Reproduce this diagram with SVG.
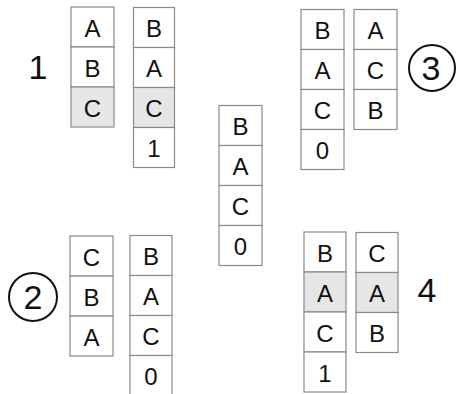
<svg xmlns="http://www.w3.org/2000/svg" width="456" height="394" viewBox="0 0 456 394">
<style>
.c{fill:#fff;stroke:#8a8a8a;stroke-width:1.2}
.g{fill:#e6e6e6;stroke:#8a8a8a;stroke-width:1.2}
.t{font-family:"Liberation Sans",Arial,sans-serif;font-size:24px;fill:#111;text-anchor:middle}
.n{font-family:"Liberation Sans",Arial,sans-serif;font-size:34px;fill:#111;text-anchor:middle}
.m{font-family:"Liberation Sans",Arial,sans-serif;font-size:34px;fill:#111;text-anchor:middle}
.o{fill:none;stroke:#111;stroke-width:2}
</style>
<rect width="456" height="394" fill="#fff"/>
<g id="stack1L">
<rect class="c" x="71" y="7" width="43" height="40"/><text class="t" x="92.5" y="36.5">A</text>
<rect class="c" x="71" y="47" width="43" height="40"/><text class="t" x="92.5" y="76.5">B</text>
<rect class="g" x="71" y="87" width="43" height="40"/><text class="t" x="92.5" y="116.5">C</text>
</g>
<g id="stack1R">
<rect class="c" x="133.5" y="7.5" width="41" height="40"/><text class="t" x="154" y="37">B</text>
<rect class="c" x="133.5" y="47.5" width="41" height="40"/><text class="t" x="154" y="77">A</text>
<rect class="g" x="133.5" y="87.5" width="41" height="40"/><text class="t" x="154" y="117">C</text>
<rect class="c" x="133.5" y="127.5" width="41" height="40"/><text class="t" x="154" y="157">1</text>
</g>
<g id="stackMid">
<rect class="c" x="219" y="105.5" width="43" height="40"/><text class="t" x="240.5" y="135">B</text>
<rect class="c" x="219" y="145.5" width="43" height="40"/><text class="t" x="240.5" y="175">A</text>
<rect class="c" x="219" y="185.5" width="43" height="40"/><text class="t" x="240.5" y="215">C</text>
<rect class="c" x="219" y="225.5" width="43" height="40"/><text class="t" x="240.5" y="255">0</text>
</g>
<g id="stack3L">
<rect class="c" x="301" y="9.5" width="43" height="40"/><text class="t" x="322.5" y="39">B</text>
<rect class="c" x="301" y="49.5" width="43" height="40"/><text class="t" x="322.5" y="79">A</text>
<rect class="c" x="301" y="89.5" width="43" height="40"/><text class="t" x="322.5" y="119">C</text>
<rect class="c" x="301" y="129.5" width="43" height="40"/><text class="t" x="322.5" y="159">0</text>
</g>
<g id="stack3R">
<rect class="c" x="354" y="9.5" width="43" height="40"/><text class="t" x="375.5" y="39">A</text>
<rect class="c" x="354" y="49.5" width="43" height="40"/><text class="t" x="375.5" y="79">C</text>
<rect class="c" x="354" y="89.5" width="43" height="40"/><text class="t" x="375.5" y="119">B</text>
</g>
<g id="stack2L">
<rect class="c" x="70" y="236" width="43" height="40"/><text class="t" x="91.5" y="265.5">C</text>
<rect class="c" x="70" y="276" width="43" height="40"/><text class="t" x="91.5" y="305.5">B</text>
<rect class="c" x="70" y="316" width="43" height="40"/><text class="t" x="91.5" y="345.5">A</text>
</g>
<g id="stack2R">
<rect class="c" x="130" y="235.5" width="42" height="40"/><text class="t" x="151" y="265">B</text>
<rect class="c" x="130" y="275.5" width="42" height="40"/><text class="t" x="151" y="305">A</text>
<rect class="c" x="130" y="315.5" width="42" height="40"/><text class="t" x="151" y="345">C</text>
<rect class="c" x="130" y="355.5" width="42" height="40"/><text class="t" x="151" y="385">0</text>
</g>
<g id="stack4L">
<rect class="c" x="304" y="232" width="42" height="40"/><text class="t" x="325" y="261.5">B</text>
<rect class="g" x="304" y="272" width="42" height="40"/><text class="t" x="325" y="301.5">A</text>
<rect class="c" x="304" y="312" width="42" height="40"/><text class="t" x="325" y="341.5">C</text>
<rect class="c" x="304" y="352" width="42" height="40"/><text class="t" x="325" y="381.5">1</text>
</g>
<g id="stack4R">
<rect class="c" x="356" y="232.5" width="42" height="40"/><text class="t" x="377" y="262">C</text>
<rect class="g" x="356" y="272.5" width="42" height="40"/><text class="t" x="377" y="302">A</text>
<rect class="c" x="356" y="312.5" width="42" height="40"/><text class="t" x="377" y="342">B</text>
</g>
<g id="label1"><text class="n" x="38" y="79">1</text></g>
<g id="label2"><circle class="o" cx="33" cy="297" r="24"/><text class="m" x="33" y="309">2</text></g>
<g id="label3"><circle class="o" cx="432" cy="68" r="23"/><text class="m" x="431" y="80">3</text></g>
<g id="label4"><text class="n" x="427" y="302">4</text></g>
</svg>
